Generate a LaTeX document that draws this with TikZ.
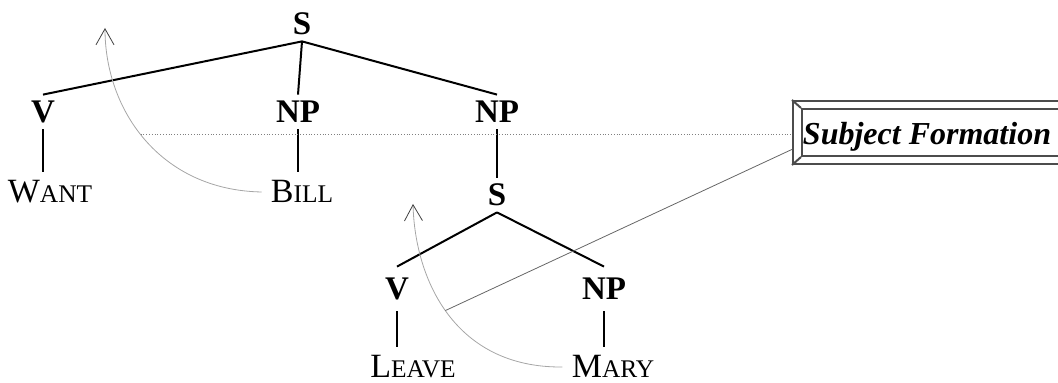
\documentclass[tikz,border=0pt]{standalone}
\usepackage{fontspec}
\setmainfont{Liberation Serif}
\usepackage{tikz}
\usetikzlibrary{arrows.meta,calc}

\newcommand{\fsc}[2]{{\fontsize{17}{20}\selectfont #1}{\fontsize{12.7}{15}\selectfont #2}}

\tikzset{
  cat/.style={font=\fontsize{16.5}{19}\selectfont\bfseries, text height=11pt, text depth=0pt, inner sep=3pt},
  word/.style={text height=11pt, text depth=0pt, inner sep=4.5pt},
  branch/.style={line width=1pt},
  move/.style={draw=black!35, line width=0.4pt, -{Straight Barb[length=8pt,width=9pt,color=black!75]}},
  hline/.style={draw=black!50, densely dotted, line width=0.4pt},
  link/.style={draw=black!60, line width=0.4pt},
  bevel/.style={draw=black!70, line width=1pt, inner sep=0pt}
}

\begin{document}
\begin{tikzpicture}[x=0.5pt,y=-0.5pt]
\useasboundingbox (0,0) rectangle (1058,383);
% upper tree
\node[cat] (s1) at (302,24) {S};
\node[cat] (v1) at (43,112) {V};
\node[cat] (np1) at (298,112) {NP};
\node[cat] (np2) at (497,112) {NP};
\node[word] (want) at (50,192) {\fsc{W}{ANT}};
\node[word] (bill) at (302,192) {\fsc{B}{ILL}};
\foreach \d in {v1,np1,np2} \draw[branch] (s1.south) -- (\d.north);
\draw[branch] (v1.south) -- (v1.south |- want.north);
\draw[branch] (np1.south) -- (np1.south |- bill.north);
% embedded S
\node[cat] (s2) at (497,195) {S};
\node[cat,inner sep=5.5pt] (v2) at (397,289) {V};
\node[cat,inner sep=5.5pt] (np3) at (604,289) {NP};
\node[word] (leave) at (413,367) {\fsc{L}{EAVE}};
\node[word] (mary) at (613,367) {\fsc{M}{ARY}};
\draw[branch] (np2.south) -- (s2.north);
\foreach \d in {v2,np3} \draw[branch] (s2.south) -- (\d.north);
\draw[branch] (v2.south) -- (v2.south |- leave.north);
\draw[branch] (np3.south) -- (np3.south |- mary.north);
% rule box
\node[bevel, minimum width=141pt, minimum height=31.5pt] (frame) at (934,132.5) {};
\node[bevel, minimum width=133pt, minimum height=23.5pt] (inner) at (935,132.5) {};
\draw[bevel] (frame.north west) -- (inner.north west) (frame.south west) -- (inner.south west);
\node[font=\fontsize{16}{19}\selectfont\bfseries\itshape, anchor=base] (sf) at (927,145) {Subject Formation};
% movements
\coordinate (t1) at (105,28);
\coordinate (t2) at (413,204);
\draw[move] (bill.west) .. controls (160,190) and (105,110) .. (t1) coordinate[pos=0.53] (c1);
\draw[move] (mary.west) .. controls (455,368) and (415,280) .. (t2) coordinate[pos=0.52] (c2);
\draw[hline] (c1) -- (c1 -| frame.west);
\draw[link] (c2) -- ($(frame.south west)!0.24!(frame.north west)$);
\end{tikzpicture}
\end{document}
